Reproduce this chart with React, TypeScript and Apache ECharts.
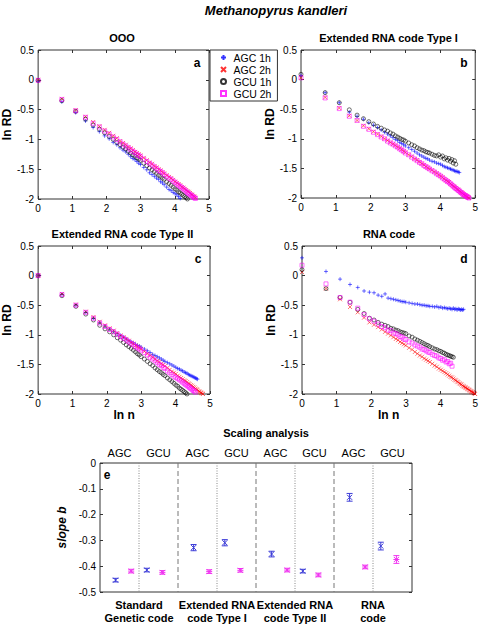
import React, { useEffect, useRef } from "react";
import * as echarts from "echarts";

const FONT = 'Arial, "Liberation Sans", Helvetica, sans-serif';

// sampled n values (x axis is ln n)
const nValues = [1,2,3,4,5,6,7,8,9,10,11,12,13,14,15,16,17,18,19,20,22,24,26,28,30,32,34,36,38,40,43,46,49,52,55,58,61,64,67,70,73,76,79,82,85,88,91,94,97,100,103,106,109,112,115,118,121,124,127,130,133,136,139,142,145,148];

const seriesNames = ["AGC 1h", "AGC 2h", "GCU 1h", "GCU 2h"];

// Panel a: OOO
const aAGC1h = [-0.02,-0.37,-0.55,-0.69,-0.80,-0.87,-0.94,-0.99,-1.05,-1.09,-1.14,-1.18,-1.21,-1.25,-1.29,-1.32,-1.34,-1.37,-1.40,-1.42,-1.47,-1.51,-1.56,-1.59,-1.62,-1.65,-1.67,-1.71,-1.73,-1.76,-1.80,-1.84,-1.86,-1.89,-1.91,-1.93,-1.96,-1.99,-2.01,-2.03];
const aAGC2h = [0,-0.32,-0.51,-0.62,-0.71,-0.78,-0.84,-0.89,-0.94,-0.98,-1.03,-1.06,-1.09,-1.13,-1.15,-1.18,-1.21,-1.23,-1.25,-1.27,-1.31,-1.35,-1.39,-1.41,-1.45,-1.47,-1.50,-1.52,-1.55,-1.57,-1.60,-1.63,-1.65,-1.68,-1.71,-1.73,-1.75,-1.77,-1.80,-1.81,-1.83,-1.85,-1.87,-1.88,-1.90,-1.92,-1.93,-1.95,-1.96,-1.98];
const aGCU1h = [-0.01,-0.35,-0.53,-0.66,-0.76,-0.83,-0.89,-0.95,-1.00,-1.05,-1.09,-1.13,-1.16,-1.20,-1.23,-1.26,-1.28,-1.31,-1.33,-1.35,-1.40,-1.44,-1.48,-1.51,-1.54,-1.57,-1.60,-1.62,-1.65,-1.67,-1.71,-1.74,-1.77,-1.80,-1.83,-1.85,-1.88,-1.90,-1.92,-1.94,-1.96,-1.98,-2.00,-2.02];
const aGCU2h = [-0.01,-0.33,-0.52,-0.63,-0.73,-0.79,-0.86,-0.91,-0.96,-1.00,-1.04,-1.08,-1.11,-1.14,-1.17,-1.20,-1.22,-1.25,-1.27,-1.29,-1.33,-1.37,-1.40,-1.43,-1.46,-1.49,-1.52,-1.54,-1.56,-1.59,-1.62,-1.65,-1.67,-1.70,-1.72,-1.75,-1.77,-1.79,-1.81,-1.83,-1.85,-1.87,-1.89,-1.91,-1.92,-1.94,-1.95,-1.97,-1.98,-1.99];

// Panel b: Extended RNA code Type I
const bAGC1h = [0.07,-0.22,-0.39,-0.55,-0.62,-0.67,-0.73,-0.77,-0.81,-0.85,-0.89,-0.92,-0.95,-0.98,-1.01,-1.03,-1.06,-1.08,-1.10,-1.12,-1.15,-1.18,-1.21,-1.24,-1.27,-1.29,-1.31,-1.33,-1.34,-1.36,-1.38,-1.39,-1.41,-1.42,-1.43,-1.45,-1.47,-1.48,-1.49,-1.50,-1.51,-1.52,-1.53,-1.54,-1.55,-1.55,-1.56,-1.57];
const bAGC2h = [0.03,-0.30,-0.48,-0.61,-0.69,-0.78,-0.83,-0.88,-0.92,-0.96,-1.00,-1.03,-1.06,-1.09,-1.11,-1.14,-1.16,-1.18,-1.21,-1.23,-1.27,-1.30,-1.34,-1.36,-1.39,-1.42,-1.44,-1.47,-1.49,-1.51,-1.53,-1.56,-1.58,-1.61,-1.63,-1.65,-1.68,-1.70,-1.72,-1.73,-1.76,-1.78,-1.80,-1.81,-1.83,-1.85,-1.86,-1.88,-1.90,-1.91,-1.92,-1.94,-1.95,-1.96,-1.97,-1.98,-1.99,-2.00,-2.01,-2.02];
const bGCU1h = [0.09,-0.22,-0.39,-0.51,-0.60,-0.66,-0.71,-0.75,-0.79,-0.82,-0.85,-0.87,-0.90,-0.92,-0.95,-0.97,-0.99,-1.01,-1.02,-1.04,-1.07,-1.10,-1.12,-1.15,-1.17,-1.19,-1.20,-1.22,-1.23,-1.24,-1.26,-1.28,-1.29,-1.27,-1.31,-1.29,-1.34,-1.32,-1.36,-1.33,-1.38,-1.35,-1.41,-1.37,-1.43];
const bGCU2h = [0.03,-0.31,-0.49,-0.62,-0.69,-0.79,-0.84,-0.89,-0.93,-0.97,-1.00,-1.04,-1.07,-1.09,-1.12,-1.14,-1.17,-1.19,-1.21,-1.24,-1.27,-1.31,-1.34,-1.37,-1.40,-1.42,-1.45,-1.47,-1.49,-1.51,-1.54,-1.56,-1.59,-1.61,-1.63,-1.66,-1.68,-1.70,-1.72,-1.74,-1.76,-1.78,-1.80,-1.82,-1.84,-1.85,-1.87,-1.88,-1.90,-1.91,-1.93,-1.94,-1.95,-1.96,-1.97,-1.98,-1.99,-2.00,-2.01];

// Panel c: Extended RNA code Type II
const cAGC1h = [0,-0.32,-0.50,-0.62,-0.72,-0.79,-0.85,-0.90,-0.94,-0.98,-1.01,-1.04,-1.07,-1.10,-1.12,-1.14,-1.16,-1.18,-1.19,-1.21,-1.24,-1.27,-1.30,-1.33,-1.35,-1.37,-1.39,-1.41,-1.43,-1.45,-1.47,-1.49,-1.51,-1.53,-1.55,-1.57,-1.58,-1.60,-1.61,-1.63,-1.64,-1.65,-1.67,-1.68,-1.69,-1.70,-1.71,-1.72,-1.73,-1.74,-1.75];
const cAGC2h = [0,-0.31,-0.49,-0.61,-0.70,-0.78,-0.84,-0.89,-0.93,-0.97,-1.01,-1.04,-1.07,-1.10,-1.13,-1.15,-1.18,-1.20,-1.22,-1.24,-1.28,-1.32,-1.35,-1.38,-1.41,-1.44,-1.46,-1.49,-1.51,-1.53,-1.56,-1.59,-1.62,-1.64,-1.66,-1.69,-1.71,-1.73,-1.75,-1.77,-1.78,-1.80,-1.82,-1.83,-1.85,-1.86,-1.88,-1.89,-1.91,-1.92,-1.93,-1.95,-1.96,-1.97,-1.98,-1.99,-2.00];
const cGCU1h = [0,-0.34,-0.52,-0.65,-0.75,-0.84,-0.90,-0.95,-1.00,-1.05,-1.09,-1.13,-1.17,-1.20,-1.23,-1.26,-1.29,-1.32,-1.34,-1.37,-1.41,-1.45,-1.49,-1.52,-1.56,-1.59,-1.62,-1.64,-1.67,-1.69,-1.73,-1.76,-1.79,-1.82,-1.85,-1.87,-1.90,-1.92,-1.94,-1.96,-1.98,-2.00];
const cGCU2h = [0,-0.32,-0.50,-0.62,-0.72,-0.80,-0.86,-0.91,-0.95,-0.99,-1.03,-1.06,-1.09,-1.12,-1.15,-1.17,-1.20,-1.22,-1.24,-1.26,-1.30,-1.34,-1.38,-1.41,-1.44,-1.47,-1.50,-1.52,-1.55,-1.57,-1.61,-1.64,-1.67,-1.70,-1.72,-1.74,-1.76,-1.78,-1.80,-1.82,-1.84,-1.86,-1.87,-1.89,-1.91,-1.92,-1.94,-1.95,-1.97];

// Panel d: RNA code
const dAGC1h = [0.30,0.07,-0.06,-0.15,-0.20,-0.26,-0.28,-0.29,-0.33,-0.35,-0.31,-0.38,-0.39,-0.40,-0.41,-0.42,-0.43,-0.44,-0.44,-0.45,-0.46,-0.47,-0.48,-0.48,-0.49,-0.50,-0.50,-0.51,-0.51,-0.52,-0.52,-0.53,-0.52,-0.54,-0.53,-0.55,-0.54,-0.55,-0.56,-0.55,-0.56,-0.57,-0.55,-0.57,-0.56,-0.58,-0.56,-0.57,-0.58,-0.57,-0.58,-0.57];
const dAGC2h = [0.06,-0.22,-0.40,-0.53,-0.62,-0.71,-0.79,-0.83,-0.87,-0.91,-0.95,-0.98,-1.01,-1.04,-1.07,-1.09,-1.12,-1.14,-1.16,-1.18,-1.22,-1.25,-1.29,-1.32,-1.35,-1.37,-1.40,-1.42,-1.44,-1.46,-1.49,-1.52,-1.54,-1.57,-1.59,-1.61,-1.63,-1.65,-1.67,-1.69,-1.71,-1.72,-1.74,-1.76,-1.77,-1.79,-1.80,-1.82,-1.83,-1.84,-1.86,-1.87,-1.88,-1.89,-1.90,-1.91,-1.92,-1.93,-1.94,-1.95,-1.96,-1.97,-1.97,-1.98,-1.99,-2.00];
const dGCU1h = [0.10,-0.22,-0.37,-0.45,-0.57,-0.64,-0.72,-0.75,-0.79,-0.82,-0.84,-0.86,-0.89,-0.90,-0.92,-0.93,-0.95,-0.96,-0.97,-0.98,-1.02,-1.04,-1.07,-1.09,-1.11,-1.13,-1.15,-1.17,-1.18,-1.20,-1.22,-1.24,-1.25,-1.27,-1.28,-1.30,-1.31,-1.33,-1.34,-1.35,-1.36,-1.37,-1.38];
const dGCU2h = [0.175,-0.14,-0.37,-0.45,-0.55,-0.66,-0.73,-0.77,-0.82,-0.86,-0.88,-0.92,-0.93,-0.97,-0.98,-1.00,-1.03,-1.04,-1.07,-1.08,-1.12,-1.14,-1.17,-1.19,-1.21,-1.24,-1.25,-1.27,-1.29,-1.30,-1.33,-1.35,-1.36,-1.39,-1.40,-1.43,-1.42,-1.46,-1.45,-1.49,-1.48,-1.53];

const panelTitles = ["OOO", "Extended RNA code Type I", "Extended RNA code Type II", "RNA code"];
const panelLetters = ["a", "b", "c", "d"];
const panelData = [
  [aAGC1h, aAGC2h, aGCU1h, aGCU2h],
  [bAGC1h, bAGC2h, bGCU1h, bGCU2h],
  [cAGC1h, cAGC2h, cGCU1h, cGCU2h],
  [dAGC1h, dAGC2h, dGCU1h, dGCU2h],
];
const xTickLabels = ["0", "1", "2", "3", "4", "5"];

// Panel e: scaling analysis
const groupNames = ["Standard\nGenetic code", "Extended RNA\ncode Type I", "Extended RNA\ncode Type II", "RNA\ncode"];
const halfNames = ["AGC", "GCU"];
// order: per group AGC then GCU
const slope1h = [-0.454, -0.415, -0.328, -0.309, -0.353, -0.419, -0.133, -0.322];
const err1h = [0.007, 0.007, 0.012, 0.012, 0.011, 0.007, 0.015, 0.015];
const slope2h = [-0.419, -0.424, -0.421, -0.416, -0.415, -0.434, -0.403, -0.374];
const err2h = [0.007, 0.007, 0.007, 0.007, 0.007, 0.007, 0.007, 0.015];

const BLUE = "#0000ff";
const RED = "#ff0000";
const BLACK = "#000000";
const MAGENTA = "#ff00ff";
const colors = [BLUE, RED, BLACK, MAGENTA];
const symbols = [
  "path://M5,0L5,10M0,5L10,5",
  "path://M0,0L10,10M10,0L0,10",
  "path://M10,5A5,5 0 1,1 0,5A5,5 0 1,1 10,5Z",
  "path://M0,0L10,0L10,10L0,10Z",
];

const grids = [
  { left: 35, top: 50, width: 174, height: 149 },
  { left: 301, top: 50, width: 175, height: 148 },
  { left: 35, top: 246, width: 175, height: 148 },
  { left: 302, top: 246, width: 174, height: 148 },
  { left: 100, top: 463, width: 312, height: 129 },
];

function buildOption(): any {
  const tick = { show: true, inside: true, length: 3, lineStyle: { color: "#333", width: 1 } };
  const noLine = { show: false, onZero: false };
  const xAxis: any[] = [];
  const yAxis: any[] = [];
  const series: any[] = [];
  const graphic: any[] = [];

  for (let i = 0; i < 4; i++) {
    const hasXName = i >= 2;
    xAxis.push({
      type: "value", gridIndex: i, position: "bottom", min: 0, max: 5, interval: 1,
      axisLine: noLine, splitLine: { show: false }, axisTick: tick,
      axisLabel: { color: "#000", fontSize: 10, fontFamily: FONT, margin: 4, formatter: (v: number) => xTickLabels[Math.round(v)] },
      name: hasXName ? "ln n" : "", nameLocation: "middle", nameGap: 14,
      nameTextStyle: { color: "#000", fontSize: 12, fontWeight: "bold", fontFamily: FONT },
    });
    xAxis.push({
      type: "value", gridIndex: i, position: "top", min: 0, max: 5, interval: 1,
      axisLine: noLine, splitLine: { show: false }, axisTick: tick, axisLabel: { show: false },
    });
    yAxis.push({
      type: "value", gridIndex: i, position: "left", min: -2, max: 0.5, interval: 0.5,
      axisLine: noLine, splitLine: { show: false }, axisTick: tick,
      axisLabel: { color: "#000", fontSize: 10, fontFamily: FONT, margin: 4 },
      name: "ln RD", nameLocation: "middle", nameGap: 19,
      nameTextStyle: { color: "#000", fontSize: 12, fontWeight: "bold", fontFamily: FONT },
    });
    yAxis.push({
      type: "value", gridIndex: i, position: "right", min: -2, max: 0.5, interval: 0.5,
      axisLine: noLine, splitLine: { show: false }, axisTick: tick, axisLabel: { show: false },
    });
    panelData[i].forEach((arr, k) => {
      series.push({
        type: "scatter", name: seriesNames[k], xAxisIndex: 2 * i, yAxisIndex: 2 * i,
        symbol: symbols[k], symbolSize: 4,
        itemStyle: { color: "rgba(0,0,0,0)", borderColor: colors[k], borderWidth: 0.7 },
        data: arr.map((y, j) => [Math.log(nValues[j]), y]),
        silent: true, clip: true,
      });
    });
    const g = grids[i];
    graphic.push({
      type: "text", x: g.left + g.width / 2, y: g.top - 12,
      style: { text: panelTitles[i], font: `bold 11px ${FONT}`, fill: "#000", align: "center", verticalAlign: "middle" },
    });
    graphic.push({
      type: "text", x: g.left + g.width - 12, y: g.top + 13,
      style: { text: panelLetters[i], font: `bold 12px ${FONT}`, fill: "#000", align: "center", verticalAlign: "middle" },
    });
  }

  // panel e axes
  xAxis.push({
    type: "value", gridIndex: 4, position: "bottom", min: 0, max: 8, interval: 1,
    axisLine: noLine, splitLine: { show: false }, axisTick: { show: false },
    axisLabel: {
      color: "#000", fontSize: 11, fontWeight: "bold", fontFamily: FONT, margin: 6, lineHeight: 13,
      formatter: (v: number) => (Math.round(v) % 2 === 1 ? groupNames[(Math.round(v) - 1) / 2] : ""),
    },
  });
  xAxis.push({
    type: "value", gridIndex: 4, position: "top", min: 0, max: 8, interval: 0.5,
    axisLine: noLine, splitLine: { show: false }, axisTick: { show: false },
    axisLabel: {
      color: "#000", fontSize: 11, fontFamily: FONT, margin: 5,
      formatter: (v: number) => {
        const k = Math.round(v * 2);
        return k % 2 === 1 ? halfNames[((k - 1) / 2) % 2] : "";
      },
    },
  });
  yAxis.push({
    type: "value", gridIndex: 4, position: "left", min: -0.5, max: 0, interval: 0.1,
    axisLine: noLine, splitLine: { show: false }, axisTick: tick,
    axisLabel: { color: "#000", fontSize: 10, fontFamily: FONT, margin: 4 },
    name: "slope b", nameLocation: "middle", nameGap: 20,
    nameTextStyle: { color: "#000", fontSize: 12, fontWeight: "bold", fontStyle: "italic", fontFamily: FONT },
  });
  yAxis.push({
    type: "value", gridIndex: 4, position: "right", min: -0.5, max: 0, interval: 0.1,
    axisLine: noLine, splitLine: { show: false }, axisTick: tick, axisLabel: { show: false },
  });

  const dividers = [[1, 0], [2, 1], [3, 0], [4, 1], [5, 0], [6, 1], [7, 0]];
  series.push({
    type: "custom", xAxisIndex: 8, yAxisIndex: 8, silent: true, z: 1,
    data: dividers,
    renderItem: (params: any, api: any) => {
      const x = api.value(0);
      const dashed = api.value(1) === 1;
      const p1 = api.coord([x, 0]);
      const p2 = api.coord([x, -0.5]);
      return {
        type: "line",
        shape: { x1: p1[0], y1: p1[1], x2: p2[0], y2: p2[1] },
        style: { stroke: dashed ? "#777" : "#888", lineWidth: 1, lineDash: dashed ? [5, 3] : [1, 1.5] },
      };
    },
  });

  const errRender = (color: string, star: boolean) => (params: any, api: any) => {
    const x = api.value(0);
    const y = api.value(1);
    const e = api.value(2);
    const c = api.coord([x, y]);
    const t = api.coord([x, y + e]);
    const b = api.coord([x, y - e]);
    const w = 3;
    const m = 2.5;
    const style = { stroke: color, lineWidth: 1, fill: "none" };
    const children: any[] = [
      { type: "line", shape: { x1: c[0], y1: t[1], x2: c[0], y2: b[1] }, style },
      { type: "line", shape: { x1: c[0] - w, y1: t[1], x2: c[0] + w, y2: t[1] }, style },
      { type: "line", shape: { x1: c[0] - w, y1: b[1], x2: c[0] + w, y2: b[1] }, style },
      { type: "line", shape: { x1: c[0] - m, y1: c[1] - m, x2: c[0] + m, y2: c[1] + m }, style },
      { type: "line", shape: { x1: c[0] - m, y1: c[1] + m, x2: c[0] + m, y2: c[1] - m }, style },
    ];
    if (star) {
      children.push({ type: "line", shape: { x1: c[0] - m - 0.5, y1: c[1], x2: c[0] + m + 0.5, y2: c[1] }, style });
    }
    return { type: "group", children };
  };

  const posOf = (j: number, k: number) => 2 * Math.floor(j / 2) + 0.4 * (2 * (j % 2) + k + 1);
  series.push({
    type: "custom", xAxisIndex: 8, yAxisIndex: 8, silent: true, z: 3,
    data: slope1h.map((v, j) => [posOf(j, 0), v, err1h[j]]),
    renderItem: errRender("#3c3cd8", false),
  });
  series.push({
    type: "custom", xAxisIndex: 8, yAxisIndex: 8, silent: true, z: 3,
    data: slope2h.map((v, j) => [posOf(j, 1), v, err2h[j]]),
    renderItem: errRender("#f032f0", true),
  });

  graphic.push({
    type: "text", x: 276, y: 10,
    style: { text: "Methanopyrus kandleri", font: `italic bold 13px ${FONT}`, fill: "#000", align: "center", verticalAlign: "middle" },
  });
  graphic.push({
    type: "text", x: 266, y: 433,
    style: { text: "Scaling analysis", font: `bold 11px ${FONT}`, fill: "#000", align: "center", verticalAlign: "middle" },
  });
  graphic.push({
    type: "text", x: 107, y: 475,
    style: { text: "e", font: `bold 12px ${FONT}`, fill: "#000", align: "center", verticalAlign: "middle" },
  });

  return {
    animation: false,
    backgroundColor: "#fff",
    textStyle: { fontFamily: FONT },
    grid: grids.map((g) => ({ ...g, show: true, borderColor: "#333", borderWidth: 1, backgroundColor: "transparent" })),
    xAxis,
    yAxis,
    legend: {
      data: seriesNames,
      orient: "vertical",
      left: 210,
      top: 50,
      itemWidth: 10,
      itemHeight: 5,
      itemGap: 1,
      padding: [2, 6, 2, 10],
      borderColor: "#333",
      borderWidth: 1,
      backgroundColor: "#fff",
      selectedMode: false,
      textStyle: { fontSize: 10.5, fontFamily: FONT, color: "#000", lineHeight: 11 },
    },
    series,
    graphic,
  };
}

export default function App() {
  const ref = useRef<HTMLDivElement>(null);
  useEffect(() => {
    if (!ref.current) return;
    const chart = echarts.init(ref.current, undefined, { renderer: "svg" });
    chart.setOption(buildOption());
    return () => chart.dispose();
  }, []);
  return (
    <div
      ref={ref}
      style={{ position: "absolute", left: 0, top: 0, width: 481, height: 624, background: "#fff" }}
    />
  );
}
